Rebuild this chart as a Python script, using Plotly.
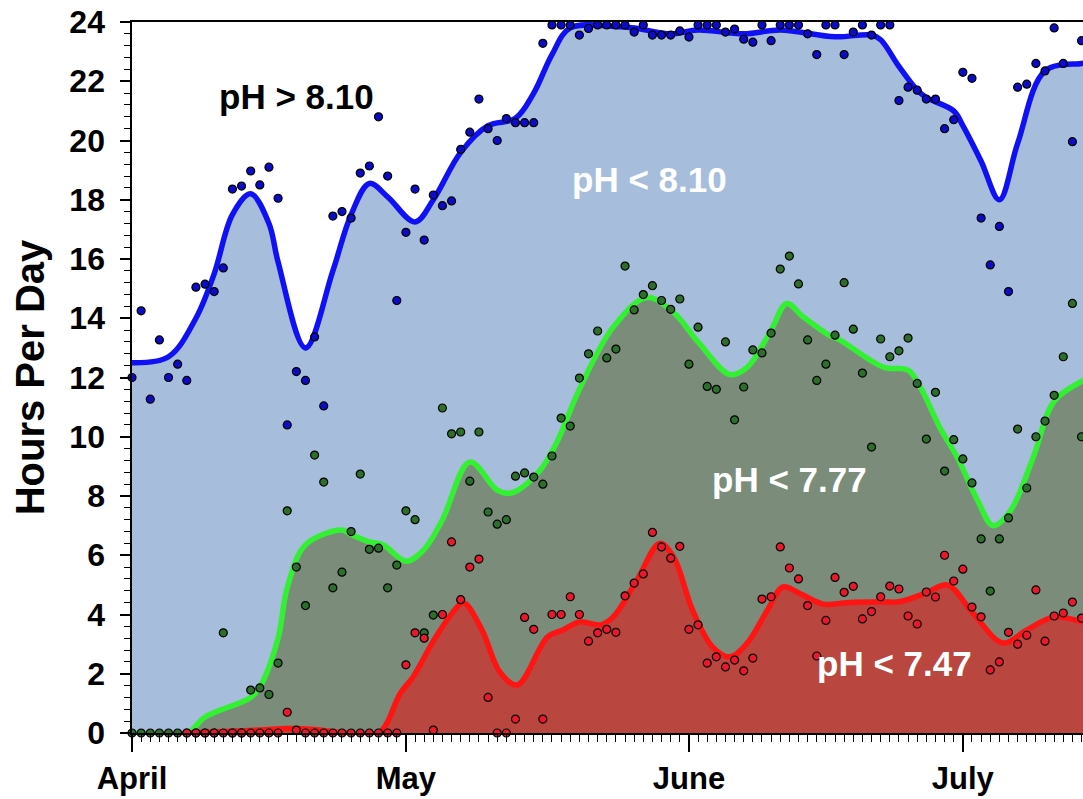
import plotly.graph_objects as go
import pandas as pd

START = pd.Timestamp("2015-04-01")

# ---------- smoothed curves (day offset from April 1, hours per day) ----------
blue_curve_days = [0, 4, 7, 9, 11, 13, 15, 16, 19, 22, 24, 26, 28, 31, 33, 36, 39, 42, 44, 46, 48,
                   53, 55, 59, 62, 67, 71, 77, 81, 82, 84, 86, 87, 90, 91, 93, 95, 97, 100, 104, 105]
blue_curve_hours = [12.5, 12.7, 14.0, 15.5, 17.5, 18.2, 17.2, 15.9, 13.0, 15.6, 17.5, 18.55, 18.1, 17.25,
                    18.0, 19.6, 20.5, 20.75, 21.6, 22.9, 23.8, 23.85, 23.8, 23.6, 23.73, 23.6, 23.73, 23.5,
                    23.56, 23.4, 22.5, 21.7, 21.45, 21.0, 20.5, 19.3, 18.0, 19.9, 22.35, 22.6, 22.65]

green_curve_days = [0, 6, 8, 13, 14, 16, 17, 19, 23, 24, 26, 27.5, 30, 32, 34, 37, 40, 41.5, 44.5, 46.5,
                    49, 52.7, 56.4, 59.3, 62, 65.5, 67.4, 70, 71.7, 73.5, 76.5, 77.5, 82.3, 85, 86.3,
                    88.5, 90.4, 92.6, 94.3, 96.2, 98.7, 101, 104.2, 105]
green_curve_hours = [0, 0, 0.54, 1.2, 1.55, 3.2, 4.9, 6.35, 6.85, 6.7, 6.45, 6.35, 5.8, 6.2, 7.2, 9.15,
                     8.2, 8.1, 8.8, 9.8, 11.6, 13.7, 14.7, 14.2, 13.2, 12.1, 12.35, 13.6, 14.5, 14.05,
                     13.4, 13.27, 12.35, 12.25, 11.7, 10.3, 9.3, 7.86, 7.0, 7.5, 9.3, 11.2, 11.9, 12.0]

red_curve_days = [6, 14, 17, 20, 23, 27, 29.4, 30.8, 33, 35.2, 36.3, 38.3, 40.3, 42.2, 45.5, 47.2, 49,
                  51.3, 52.7, 55.3, 57.8, 59.3, 61.4, 63.6, 65.5, 67.4, 69.6, 71.3, 73.2, 75.7, 78.3,
                  82, 84, 87, 89.3, 92.1, 95.4, 98, 101, 104.2, 105]
red_curve_hours = [0, 0.1, 0.15, 0.12, 0.02, 0, 1.35, 1.9, 3.1, 4.1, 4.4, 3.5, 2.05, 1.62, 3.24, 3.48, 3.75,
                   3.65, 3.92, 5.16, 6.4, 5.95, 4.15, 2.9, 2.57, 3.04, 4.15, 4.93, 4.7, 4.35, 4.4,
                   4.43, 4.43, 4.73, 5.0, 4.05, 3.04, 3.48, 3.92, 3.75, 3.73]

# ---------- daily observations ----------
blue_dot_days = list(range(0, 105))
blue_dot_hours = [12.0, 14.25, 11.27, 13.27, 12.0, 12.45, 11.9, 15.05, 15.15, 14.9,
                  15.7, 18.36, 18.46, 18.97, 18.5, 19.1, 18.05, 10.4, 12.2, 11.9,
                  13.37, 11.04, 17.45, 17.6, 17.38, 18.9, 19.14, 20.8, 18.8, 14.6,
                  16.9, 18.36, 16.64, 18.16, 17.8, 17.96, 19.7, 20.28, 21.4, 20.4,
                  20.0, 20.74, 20.6, 20.6, 20.6, 23.28, 23.9, 23.9, 23.9, 23.56,
                  23.78, 23.9, 23.9, 23.9, 23.9, 23.66, 23.9, 23.56, 23.56, 23.56,
                  23.7, 23.49, 23.9, 23.9, 23.9, 23.66, 23.76, 23.42, 23.32, 23.9,
                  23.37, 23.9, 23.9, 23.9, 23.6, 22.9, 23.9, 23.9, 22.9, 23.66,
                  23.9, 23.56, 23.9, 23.9, 21.35, 21.8, 21.7, 21.4, 21.4, 20.4,
                  20.7, 22.3, 22.1, 17.38, 15.8, 17.1, 14.9, 21.8, 21.9, 22.6,
                  22.35, 23.8, 22.6, 19.96, 23.37]

green_dot_days = list(range(0, 105))
green_dot_hours = [0, 0, 0, 0, 0, 0, 0, 0, 0, 0,
                   3.38, 0, 0, 1.45, 1.52, 1.3, 2.36, 7.5, 5.6, 4.3,
                   9.38, 8.47, 4.9, 5.43, 6.8, 8.74, 6.2, 6.24, 4.9, 5.67,
                   7.5, 7.2, 3.38, 3.98, 10.97, 10.1, 10.16, 8.5, 10.16, 7.46,
                   7.05, 7.2, 8.67, 8.78, 8.64, 8.4, 9.35, 10.63, 10.36, 11.98,
                   12.8, 13.57, 12.66, 12.96, 15.76, 14.28, 14.8, 15.1, 14.6, 14.3,
                   14.65, 12.45, 13.7, 11.7, 11.6, 13.2, 10.57, 11.68, 12.93, 12.83,
                   13.5, 15.66, 16.1, 15.16, 13.27, 11.9, 12.45, 13.43, 15.2, 13.63,
                   12.15, 9.65, 13.3, 12.7, 12.9, 13.33, 11.8, 9.92, 11.5, 8.84,
                   9.9, 9.25, 8.44, 6.55, 4.79, 6.55, 7.26, 10.26, 8.27, 10.0,
                   10.53, 11.4, 12.7, 14.5, 10.0]

red_dot_days = list(range(6, 105))
red_dot_hours = [0, 0, 0, 0, 0, 0, 0, 0, 0, 0, 0, 0.7, 0.1, 0,
                 0, 0, 0, 0, 0, 0, 0, 0, 0, 0,
                 2.3, 3.38, 3.2, 0.1, 4.0, 6.45, 4.5, 5.6, 5.87, 1.2,
                 0, 0, 0.47, 3.9, 3.5, 0.47, 4.0, 4.0, 4.6, 4.0,
                 3.1, 3.38, 3.5, 3.4, 4.63, 5.06, 5.37, 6.77, 6.28, 5.9,
                 6.3, 3.5, 3.65, 2.36, 2.57, 2.23, 2.46, 2.1, 2.53, 4.52,
                 4.6, 6.28, 5.57, 5.2, 4.3, 2.6, 3.8, 5.25, 4.75, 4.95,
                 3.85, 4.1, 4.6, 4.96, 4.86, 3.95, 3.68, 4.76, 4.59, 6.0,
                 5.13, 5.53, 4.25, 3.92, 2.13, 2.4, 3.4, 3.0, 3.3, 4.83,
                 3.1, 3.95, 4.05, 4.42, 3.88]

zone_labels = ["pH > 8.10", "pH < 8.10", "pH < 7.77", "pH < 7.47"]
zone_label_days = [18.0, 56.7, 72.0, 83.5]
zone_label_hours = [21.5, 18.7, 8.57, 2.33]
zone_label_colors = ["black", "white", "white", "white"]

FONT = "Liberation Sans, Arial, sans-serif"


def to_dates(days):
    return [START + pd.Timedelta(days=float(d)) for d in days]


fig = go.Figure()

# filled areas with smooth curves
curves = [
    (blue_curve_days, blue_curve_hours, "#a6bedc", "#1010f5"),
    (green_curve_days, green_curve_hours, "#7b8c7b", "#33f033"),
    (red_curve_days, red_curve_hours, "#b9463f", "#ff1414"),
]
for days, hours, fillc, linec in curves:
    fig.add_trace(go.Scatter(
        x=to_dates(days), y=hours, mode="lines",
        line=dict(color=linec, width=5.5, shape="spline", smoothing=1.0),
        fill="tozeroy", fillcolor=fillc, hoverinfo="skip",
    ))

# daily dots
dots = [
    (blue_dot_days, blue_dot_hours, "#0c0cc8"),
    (green_dot_days, green_dot_hours, "#2c6e2c"),
    (red_dot_days, red_dot_hours, "#e8192a"),
]
for days, hours, c in dots:
    fig.add_trace(go.Scatter(
        x=to_dates(days), y=hours, mode="markers", cliponaxis=False,
        marker=dict(size=8, color=c, line=dict(color="black", width=1.2)),
    ))

annotations = []
for txt, d, h, c in zip(zone_labels, zone_label_days, zone_label_hours, zone_label_colors):
    annotations.append(dict(
        x=START + pd.Timedelta(days=d), y=h, xref="x", yref="y", text=txt,
        showarrow=False, font=dict(family=FONT, size=35, color=c, weight="bold"),
    ))

fig.update_layout(
    width=1083, height=799,
    margin=dict(l=132, r=0, t=22, b=66),
    plot_bgcolor="white", paper_bgcolor="white",
    showlegend=False,
    annotations=annotations,
    xaxis=dict(
        type="date",
        range=[START, START + pd.Timedelta(days=104.16)],
        tickmode="linear", tick0=START, dtick="M1", tickformat="%B",
        ticks="outside", ticklen=17, tickwidth=1.5, tickcolor="black",
        showline=True, linecolor="black", linewidth=1.5, mirror=True,
        showgrid=False, zeroline=False,
        tickfont=dict(family=FONT, size=31, color="black", weight="bold"),
        minor=dict(tick0=START, dtick=86400000, ticks="outside", ticklen=7,
                   tickwidth=1, tickcolor="black", showgrid=False),
    ),
    yaxis=dict(
        range=[0, 24], tickmode="linear", tick0=0, dtick=2,
        ticks="outside", ticklen=10, tickwidth=1.5, tickcolor="black",
        ticksuffix="\u00a0",
        showline=True, linecolor="black", linewidth=1.5,
        showgrid=False, zeroline=False,
        tickfont=dict(family=FONT, size=32, color="black", weight="bold"),
        minor=dict(tick0=0, dtick=0.4, ticks="outside", ticklen=6,
                   tickwidth=1, tickcolor="black", showgrid=False),
        title=dict(text="Hours Per Day", standoff=12,
                   font=dict(family=FONT, size=40, color="black", weight="bold")),
    ),
)

fig.write_html("out.html")
